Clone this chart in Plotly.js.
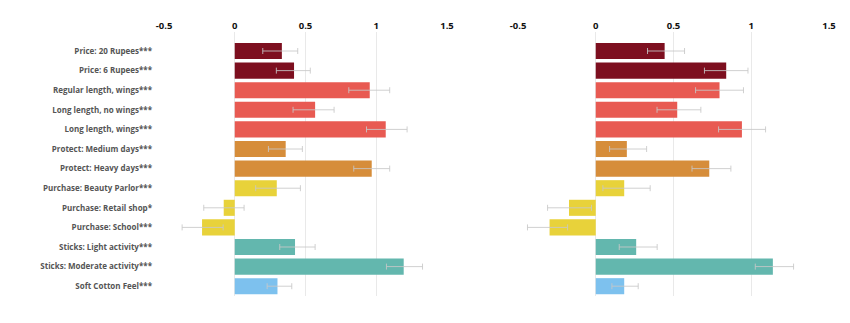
<!DOCTYPE html>
<html>
<head>
<meta charset="utf-8">
<script src="https://cdn.plot.ly/plotly-3.0.1.min.js"></script>
<style>html,body{margin:0;padding:0;background:#fff;}#chart{width:850px;height:323px;}</style>
</head>
<body>
<div id="chart"></div>
<script>
const categories = [
  "Price: 20 Rupees***",
  "Price: 6 Rupees***",
  "Regular length, wings***",
  "Long length, no wings***",
  "Long length, wings***",
  "Protect: Medium days***",
  "Protect: Heavy days***",
  "Purchase: Beauty Parlor***",
  "Purchase: Retail shop*",
  "Purchase: School***",
  "Sticks: Light activity***",
  "Sticks: Moderate activity***",
  "Soft Cotton Feel***"
];
const leftValues = [0.333, 0.419, 0.954, 0.568, 1.067, 0.360, 0.968, 0.297, -0.078, -0.231, 0.426, 1.194, 0.302];
const leftErrPlus = [0.112, 0.115, 0.141, 0.134, 0.151, 0.118, 0.127, 0.167, 0.144, 0.149, 0.142, 0.133, 0.101];
const leftErrMinus = [0.135, 0.125, 0.148, 0.156, 0.136, 0.122, 0.127, 0.149, 0.141, 0.141, 0.108, 0.122, 0.073];
const rightValues = [0.443, 0.839, 0.796, 0.524, 0.940, 0.200, 0.730, 0.183, -0.172, -0.297, 0.260, 1.139, 0.183];
const rightErrPlus = [0.128, 0.140, 0.154, 0.152, 0.152, 0.127, 0.139, 0.167, 0.145, 0.116, 0.135, 0.133, 0.090];
const rightErrMinus = [0.110, 0.140, 0.154, 0.130, 0.150, 0.111, 0.111, 0.137, 0.138, 0.142, 0.109, 0.113, 0.079];
const tickVals = [-0.5, 0, 0.5, 1, 1.5];
const tickText = ["-0.5", "0", "0.5", "1", "1.5"];
const barColors = ["#7d0f1f", "#7d0f1f", "#e85a52", "#e85a52", "#e85a52", "#d68d3a", "#d68d3a",
                   "#e8d23a", "#e8d23a", "#e8d23a", "#63b7ae", "#63b7ae", "#7dc1ee"];

function errStyle(plus, minus) {
  return {type: 'data', symmetric: false, array: plus, arrayminus: minus,
          color: 'rgba(200,200,200,0.85)', thickness: 1, width: 3};
}
const traces = [
  {type: 'bar', orientation: 'h', x: leftValues, y: categories, xaxis: 'x', yaxis: 'y',
   marker: {color: barColors}, error_x: errStyle(leftErrPlus, leftErrMinus), hoverinfo: 'x+y'},
  {type: 'bar', orientation: 'h', x: rightValues, y: categories, xaxis: 'x2', yaxis: 'y2',
   marker: {color: barColors}, error_x: errStyle(rightErrPlus, rightErrMinus), hoverinfo: 'x+y'}
];
const xBase = {
  side: 'top', range: [-0.5, 1.5], tickvals: tickVals, ticktext: tickText,
  showgrid: true, gridcolor: '#e9e9e9', gridwidth: 1, zeroline: false, showline: false,
  ticks: '', tickfont: {family: 'Open Sans, Lato, sans-serif', size: 9.5, color: '#111', weight: 'bold'},
  fixedrange: true
};
const yBase = {
  type: 'category', categoryorder: 'array', categoryarray: categories,
  range: [12.5, -0.97], showgrid: false, zeroline: false, showline: false, ticks: '',
  fixedrange: true
};
const layout = {
  width: 850, height: 323,
  margin: {l: 0, r: 0, t: 32, b: 27},
  paper_bgcolor: '#fff', plot_bgcolor: 'rgba(0,0,0,0)',
  showlegend: false, bargap: 0.18,
  xaxis: Object.assign({}, xBase, {domain: [164/850, 447/850], anchor: 'y'}),
  xaxis2: Object.assign({}, xBase, {domain: [518/850, 829/850], anchor: 'y2'}),
  yaxis: Object.assign({}, yBase, {anchor: 'x', ticklabelstandoff: 11,
    tickfont: {family: 'Open Sans, Lato, sans-serif', size: 8, color: '#555', weight: 'bold'}}),
  yaxis2: Object.assign({}, yBase, {anchor: 'x2', showticklabels: false})
};
Plotly.newPlot('chart', traces, layout, {displayModeBar: false, staticPlot: true});
</script>
</body>
</html>
